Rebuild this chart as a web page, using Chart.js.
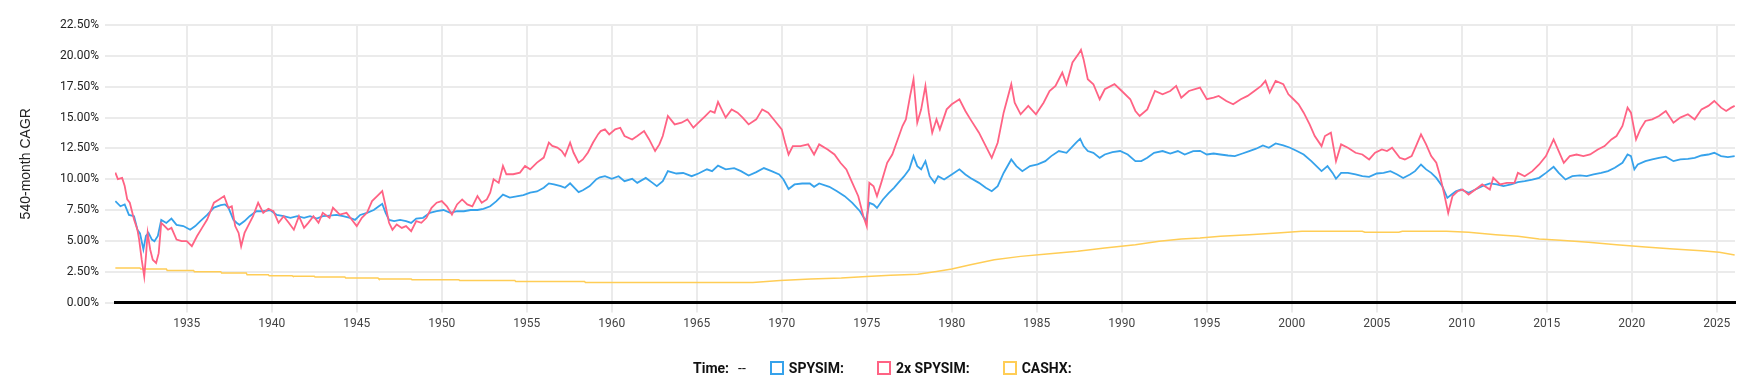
<!DOCTYPE html>
<html><head><meta charset="utf-8">
<script src="https://cdn.jsdelivr.net/npm/chart.js@4.4.0/dist/chart.umd.min.js"></script>
<style>
html,body{margin:0;padding:0;background:#fff;}
#wrap{position:relative;width:1754px;height:389px;}
#legend{position:absolute;left:693px;top:358px;height:20px;display:flex;align-items:center;font-family:Roboto,sans-serif;font-size:14px;color:#111;white-space:nowrap;}
.b{font-weight:bold;}
.dash{margin-left:9px;margin-right:24px;}
.box{width:14px;height:14px;box-sizing:border-box;border:2px solid;background:#fff;margin-right:5px;}
.item{display:flex;align-items:center;margin-right:33px;}
</style></head>
<body><div id="wrap"><canvas id="c" width="1754" height="389"></canvas><div id="legend"></div></div>
<script>
// ---- data (year, CAGR %) ----
const xMin = 1930.78, xMax = 2026.07;
const yTicksMax = 22.5, yStep = 2.5, xStep = 5;
const seriesNames = ['SPYSIM', '2x SPYSIM', 'CASHX'];
const seriesColors = ['rgb(54,162,235)', 'rgb(255,99,132)', 'rgb(255,205,86)'];
const yTitle = '540-month CAGR';
const timeLabel = 'Time:';
const timeValue = '--';

const spysim = [
[1930.8,8.22],[1931.1,7.8],[1931.35,7.95],[1931.6,7.1],[1931.9,7.0],[1932.1,5.9],[1932.25,5.6],[1932.45,4.3],[1932.6,5.4],[1932.75,5.65],
[1932.95,5.1],[1933.1,4.97],[1933.3,5.4],[1933.5,6.7],[1933.8,6.45],[1934.1,6.8],[1934.4,6.3],[1934.8,6.2],[1935.2,5.9],[1935.5,6.2],
[1935.8,6.6],[1936.2,7.1],[1936.6,7.7],[1937.0,7.9],[1937.25,7.95],[1937.45,7.7],[1937.75,6.7],[1937.95,6.45],[1938.1,6.3],[1938.4,6.6],
[1938.7,7.0],[1939.1,7.4],[1939.5,7.4],[1939.9,7.5],[1940.3,7.1],[1940.7,7.0],[1941.1,6.87],[1941.5,7.0],[1941.9,6.87],[1942.25,7.0],
[1942.65,6.8],[1943.0,7.0],[1943.4,7.05],[1943.8,7.1],[1944.2,7.0],[1944.6,6.87],[1944.9,6.7],[1945.2,7.1],[1945.6,7.27],[1946.0,7.5],
[1946.3,7.8],[1946.5,8.0],[1946.7,7.27],[1946.9,6.7],[1947.2,6.6],[1947.55,6.7],[1947.9,6.6],[1948.2,6.45],[1948.5,6.8],[1948.9,6.87],
[1949.3,7.27],[1949.7,7.4],[1950.1,7.5],[1950.5,7.27],[1950.9,7.4],[1951.3,7.4],[1951.7,7.5],[1952.1,7.5],[1952.45,7.6],[1952.85,7.8],
[1953.2,8.2],[1953.6,8.75],[1954.0,8.5],[1954.4,8.6],[1954.8,8.7],[1955.2,8.9],[1955.6,9.0],[1956.0,9.3],[1956.3,9.66],[1956.6,9.58],
[1957.0,9.44],[1957.25,9.3],[1957.55,9.66],[1957.85,9.23],[1958.05,8.95],[1958.3,9.1],[1958.7,9.44],[1959.1,10.0],[1959.3,10.15],[1959.6,10.24],
[1960.0,10.03],[1960.4,10.24],[1960.75,9.84],[1961.2,10.03],[1961.5,9.7],[1962.0,10.1],[1962.4,9.7],[1962.65,9.43],[1963.0,9.84],[1963.3,10.65],
[1963.8,10.46],[1964.2,10.5],[1964.7,10.24],[1965.1,10.46],[1965.6,10.8],[1965.9,10.65],[1966.25,11.1],[1966.7,10.8],[1967.2,10.9],[1967.6,10.65],
[1968.05,10.3],[1968.5,10.57],[1968.95,10.9],[1969.4,10.65],[1969.85,10.38],[1970.1,9.97],[1970.4,9.2],[1970.75,9.57],[1971.2,9.65],[1971.65,9.65],
[1971.9,9.38],[1972.2,9.65],[1972.8,9.38],[1973.25,9.02],[1973.7,8.62],[1974.15,8.08],[1974.6,7.4],[1974.95,6.59],[1975.15,8.08],[1975.4,7.94],
[1975.6,7.67],[1975.95,8.35],[1976.3,8.89],[1976.6,9.3],[1976.85,9.7],[1977.2,10.24],[1977.5,10.8],[1977.75,11.87],[1977.97,11.06],[1978.2,10.8],
[1978.45,11.46],[1978.7,10.24],[1978.99,9.7],[1979.2,10.24],[1979.55,9.97],[1980.0,10.38],[1980.45,10.8],[1980.8,10.38],[1981.1,10.1],[1981.6,9.7],
[1982.0,9.3],[1982.35,9.02],[1982.7,9.43],[1983.05,10.5],[1983.5,11.6],[1983.8,11.06],[1984.15,10.65],[1984.6,11.06],[1985.05,11.2],[1985.5,11.46],
[1985.85,11.87],[1986.3,12.28],[1986.75,12.14],[1987.3,12.95],[1987.55,13.28],[1987.75,12.68],[1988.0,12.28],[1988.33,12.14],[1988.7,11.73],[1989.0,12.0],
[1989.45,12.2],[1989.9,12.28],[1990.35,12.0],[1990.8,11.46],[1991.15,11.46],[1991.5,11.73],[1991.9,12.14],[1992.4,12.28],[1992.85,12.08],[1993.3,12.28],
[1993.7,12.0],[1994.2,12.28],[1994.6,12.3],[1995.0,12.0],[1995.4,12.08],[1995.8,12.0],[1996.25,11.92],[1996.65,11.87],[1997.1,12.08],[1997.5,12.28],
[1997.9,12.47],[1998.3,12.74],[1998.65,12.55],[1999.05,12.9],[1999.5,12.74],[1999.9,12.55],[2000.3,12.28],[2000.7,12.0],[2001.15,11.46],[2001.45,11.06],
[2001.75,10.65],[2002.1,11.06],[2002.4,10.51],[2002.6,10.03],[2002.9,10.51],[2003.3,10.51],[2003.75,10.38],[2004.15,10.24],[2004.55,10.19],[2005.0,10.46],
[2005.4,10.51],[2005.8,10.65],[2006.2,10.38],[2006.55,10.1],[2006.95,10.38],[2007.25,10.65],[2007.6,11.19],[2007.9,10.79],[2008.2,10.51],[2008.5,10.1],
[2008.85,9.43],[2009.15,8.48],[2009.4,8.75],[2009.65,9.02],[2009.95,9.16],[2010.4,8.89],[2010.8,9.16],[2011.2,9.43],[2011.65,9.65],[2012.05,9.57],
[2012.45,9.43],[2012.9,9.57],[2013.3,9.76],[2013.7,9.84],[2014.15,9.97],[2014.55,10.11],[2014.95,10.51],[2015.4,11.0],[2015.7,10.51],[2016.1,9.97],
[2016.5,10.24],[2016.95,10.3],[2017.35,10.24],[2017.75,10.38],[2018.2,10.51],[2018.6,10.65],[2019.0,10.92],[2019.45,11.33],[2019.75,12.0],[2019.95,11.87],
[2020.15,10.79],[2020.35,11.19],[2020.8,11.46],[2021.2,11.6],[2021.6,11.73],[2022.0,11.82],[2022.45,11.46],[2022.85,11.6],[2023.3,11.65],[2023.7,11.73],
[2024.1,11.92],[2024.5,12.0],[2024.85,12.14],[2025.25,11.87],[2025.65,11.79],[2026.05,11.87]
];

const spysim2x = [
[1930.8,10.53],[1930.95,10.0],[1931.2,10.1],[1931.35,9.44],[1931.5,8.36],[1931.65,8.09],[1931.9,6.73],[1932.1,5.9],[1932.2,5.1],[1932.35,3.47],
[1932.5,2.1],[1932.6,3.74],[1932.7,5.64],[1932.85,4.3],[1933.0,3.47],[1933.2,3.2],[1933.35,4.0],[1933.5,6.46],[1933.7,6.2],[1933.9,5.9],
[1934.1,6.05],[1934.4,5.1],[1934.7,4.97],[1935.0,4.97],[1935.3,4.56],[1935.6,5.37],[1935.9,6.05],[1936.2,6.73],[1936.6,8.09],[1936.9,8.36],
[1937.2,8.63],[1937.45,7.68],[1937.65,7.8],[1937.85,6.2],[1938.05,5.64],[1938.2,4.56],[1938.4,5.64],[1938.6,6.19],[1938.9,7.0],[1939.2,8.09],
[1939.5,7.27],[1939.8,7.6],[1940.1,7.4],[1940.4,6.46],[1940.7,7.0],[1941.0,6.46],[1941.3,5.9],[1941.6,7.0],[1941.9,6.05],[1942.15,6.46],
[1942.45,7.0],[1942.75,6.46],[1943.0,7.27],[1943.4,6.87],[1943.6,7.68],[1944.0,7.13],[1944.4,7.27],[1944.7,6.73],[1945.0,6.19],[1945.3,6.87],
[1945.6,7.27],[1945.9,8.22],[1946.2,8.63],[1946.5,9.04],[1946.7,7.8],[1946.9,6.46],[1947.1,5.9],[1947.35,6.32],[1947.65,6.05],[1947.9,6.19],
[1948.2,5.78],[1948.5,6.6],[1948.8,6.46],[1949.1,6.87],[1949.4,7.68],[1949.7,8.09],[1950.0,8.22],[1950.3,7.8],[1950.6,7.13],[1950.9,7.95],
[1951.2,8.36],[1951.5,7.95],[1951.8,7.8],[1952.1,8.63],[1952.35,8.09],[1952.65,8.36],[1952.85,8.9],[1953.05,9.99],[1953.35,9.7],[1953.6,11.07],
[1953.8,10.4],[1954.2,10.4],[1954.6,10.53],[1954.9,11.07],[1955.2,10.8],[1955.6,11.34],[1956.0,11.75],[1956.3,12.97],[1956.5,12.7],[1956.8,12.56],
[1957.05,12.3],[1957.25,11.9],[1957.55,12.97],[1957.75,12.16],[1958.05,11.34],[1958.3,11.6],[1958.6,12.16],[1958.9,12.97],[1959.2,13.65],[1959.35,13.9],
[1959.6,14.04],[1959.85,13.63],[1960.2,14.04],[1960.5,14.17],[1960.75,13.5],[1961.2,13.22],[1961.5,13.5],[1961.9,13.9],[1962.2,13.22],[1962.55,12.28],
[1962.8,12.82],[1963.0,13.5],[1963.3,15.12],[1963.7,14.44],[1964.1,14.58],[1964.45,14.85],[1964.8,14.17],[1965.1,14.58],[1965.5,15.12],[1965.8,15.53],
[1966.05,15.39],[1966.25,16.26],[1966.7,14.99],[1967.05,15.66],[1967.4,15.39],[1967.7,14.99],[1968.05,14.44],[1968.5,14.85],[1968.85,15.66],[1969.2,15.39],
[1969.6,14.72],[1970.0,14.04],[1970.2,12.95],[1970.4,12.0],[1970.65,12.68],[1971.1,12.68],[1971.55,12.82],[1971.9,12.0],[1972.2,12.82],[1972.7,12.41],
[1973.1,12.0],[1973.45,11.33],[1973.8,10.79],[1974.15,9.7],[1974.5,8.62],[1974.8,6.99],[1975.0,6.18],[1975.15,9.7],[1975.4,9.43],[1975.6,8.62],
[1975.85,9.7],[1976.2,11.33],[1976.5,12.0],[1976.75,12.95],[1977.1,14.31],[1977.3,14.85],[1977.55,16.75],[1977.75,18.1],[1977.97,14.58],[1978.2,15.66],
[1978.45,17.56],[1978.65,15.39],[1978.85,13.77],[1979.1,14.85],[1979.3,14.04],[1979.7,15.66],[1980.0,16.07],[1980.45,16.48],[1980.8,15.53],[1981.1,14.85],
[1981.6,13.77],[1982.0,12.68],[1982.35,11.73],[1982.7,12.95],[1983.05,15.39],[1983.5,17.7],[1983.7,16.2],[1984.05,15.26],[1984.5,15.94],[1984.95,15.26],
[1985.4,16.2],[1985.75,17.15],[1986.1,17.56],[1986.5,18.64],[1986.75,17.7],[1987.1,19.46],[1987.45,20.14],[1987.6,20.49],[1987.75,19.73],[1988.0,18.1],
[1988.33,17.7],[1988.7,16.48],[1989.0,17.29],[1989.57,17.7],[1990.0,17.15],[1990.5,16.48],[1990.8,15.53],[1991.05,15.12],[1991.5,15.66],[1991.95,17.15],
[1992.4,16.88],[1992.85,17.15],[1993.2,17.56],[1993.5,16.6],[1993.95,17.15],[1994.6,17.43],[1995.0,16.48],[1995.4,16.61],[1995.7,16.75],[1996.15,16.34],
[1996.55,16.07],[1997.0,16.48],[1997.4,16.75],[1997.8,17.15],[1998.2,17.56],[1998.45,17.97],[1998.7,17.02],[1999.05,17.97],[1999.5,17.7],[1999.8,16.88],
[2000.1,16.48],[2000.4,16.07],[2000.7,15.39],[2001.05,14.44],[2001.35,13.5],[2001.75,12.68],[2001.95,13.5],[2002.3,13.77],[2002.6,11.46],[2002.9,12.82],
[2003.3,12.55],[2003.75,12.14],[2004.15,12.0],[2004.55,11.6],[2004.9,12.14],[2005.3,12.41],[2005.6,12.28],[2005.9,12.55],[2006.35,11.73],[2006.65,11.6],
[2007.05,11.87],[2007.35,12.82],[2007.6,13.63],[2007.9,12.82],[2008.2,11.87],[2008.5,11.33],[2008.7,10.38],[2008.95,8.89],[2009.2,7.26],[2009.45,8.62],
[2009.75,9.02],[2010.05,9.16],[2010.4,8.75],[2010.8,9.16],[2011.2,9.57],[2011.65,9.16],[2011.85,10.11],[2012.25,9.57],[2012.65,9.7],[2013.1,9.7],
[2013.3,10.51],[2013.7,10.24],[2014.15,10.65],[2014.55,11.19],[2014.95,11.87],[2015.4,13.22],[2015.7,12.28],[2016.0,11.33],[2016.35,11.87],[2016.75,12.0],
[2017.15,11.87],[2017.55,12.0],[2018.0,12.41],[2018.4,12.68],[2018.8,13.22],[2019.1,13.5],[2019.45,14.31],[2019.75,15.8],[2019.95,15.39],[2020.25,13.22],
[2020.5,14.04],[2020.8,14.72],[2021.2,14.85],[2021.6,15.12],[2022.0,15.53],[2022.45,14.58],[2022.85,14.99],[2023.3,15.26],[2023.7,14.85],[2024.1,15.66],
[2024.5,15.94],[2024.85,16.34],[2025.25,15.8],[2025.55,15.53],[2025.85,15.8],[2026.05,15.94]
];

const cashx = [
[1930.8,2.8],[1932.25,2.8],[1932.3,2.71],[1933.8,2.71],[1933.85,2.6],[1935.4,2.6],[1935.45,2.5],[1937.0,2.5],[1937.05,2.39],[1938.5,2.39],
[1938.55,2.25],[1939.8,2.25],[1939.85,2.17],[1941.2,2.17],[1941.25,2.12],[1942.5,2.12],[1942.55,2.06],[1944.3,2.06],[1944.35,1.98],[1946.25,1.98],
[1946.3,1.9],[1948.2,1.9],[1948.25,1.85],[1951.0,1.85],[1951.05,1.79],[1954.3,1.79],[1954.35,1.71],[1958.4,1.71],[1958.45,1.63],[1968.3,1.63],
[1969.9,1.79],[1971.7,1.9],[1973.5,1.98],[1975.0,2.11],[1976.4,2.2],[1978.0,2.3],[1979.1,2.52],[1980.0,2.71],[1981.1,3.06],[1982.5,3.47],
[1984.05,3.74],[1985.6,3.93],[1987.4,4.15],[1989.0,4.42],[1990.8,4.69],[1992.2,4.96],[1993.5,5.15],[1994.6,5.23],[1995.8,5.37],[1997.5,5.5],
[1999.15,5.64],[2000.6,5.77],[2004.15,5.77],[2004.3,5.69],[2006.3,5.69],[2006.5,5.77],[2009.1,5.77],[2010.4,5.69],[2012.0,5.5],[2013.3,5.37],
[2014.55,5.15],[2015.8,5.04],[2017.45,4.88],[2019.1,4.69],[2020.8,4.5],[2022.45,4.34],[2024.1,4.2],[2025.15,4.07],[2026.05,3.85]
];

// ---- chart ----
const toPts = arr => arr.map(p => ({x: p[0], y: p[1]}));
const seriesData = [spysim, spysim2x, cashx];
const drawOrder = [1, 0, 2];
const widths = [1.8, 1.8, 1.5];

const datasets = seriesData.map((d, i) => ({
  label: seriesNames[i],
  data: toPts(d),
  borderColor: seriesColors[i],
  backgroundColor: '#ffffff',
  borderWidth: widths[i],
  pointRadius: 0,
  pointHoverRadius: 0,
  tension: 0,
  fill: false,
  order: drawOrder[i]
}));

new Chart(document.getElementById('c'), {
  type: 'line',
  data: { datasets },
  options: {
    responsive: false,
    animation: false,
    devicePixelRatio: 1,
    layout: { padding: { left: 14, top: 25, right: 19, bottom: 46.5 } },
    plugins: { legend: { display: false }, tooltip: { enabled: false } },
    scales: {
      x: {
        type: 'linear',
        min: xMin, max: xMax,
        ticks: {
          stepSize: xStep, includeBounds: false, autoSkip: false, maxRotation: 0,
          callback: v => String(Math.round(v)),
          font: { family: 'Roboto', size: 12 }, color: '#444', padding: 4
        },
        grid: { color: '#ebebeb', lineWidth: 2, tickLength: 10 },
        border: { color: '#000', width: 3 },
        afterFit: s => { s.height = 40; }
      },
      y: {
        min: 0, max: yTicksMax,
        ticks: {
          stepSize: yStep,
          callback: v => v.toFixed(2) + '%',
          font: { family: 'Roboto', size: 12 }, color: '#222', padding: 6
        },
        grid: { color: '#ebebeb', lineWidth: 2, tickLength: 10 },
        border: { display: false },
        title: { display: true, text: yTitle, font: { family: "'Liberation Sans', Arial, sans-serif", size: 14 }, color: '#222' },
        afterFit: s => { s.width = 101; }
      }
    }
  }
});

// ---- legend (HTML text) ----
const lg = document.getElementById('legend');
const t = document.createElement('span'); t.className = 'b'; t.textContent = timeLabel; lg.appendChild(t);
const dv = document.createElement('span'); dv.className = 'dash'; dv.textContent = timeValue; lg.appendChild(dv);
seriesNames.forEach((n, i) => {
  const it = document.createElement('div'); it.className = 'item';
  const bx = document.createElement('span'); bx.className = 'box'; bx.style.borderColor = seriesColors[i];
  const tx = document.createElement('span'); tx.className = 'b'; tx.textContent = n + ':';
  it.appendChild(bx); it.appendChild(tx); lg.appendChild(it);
});
</script>
</body></html>
